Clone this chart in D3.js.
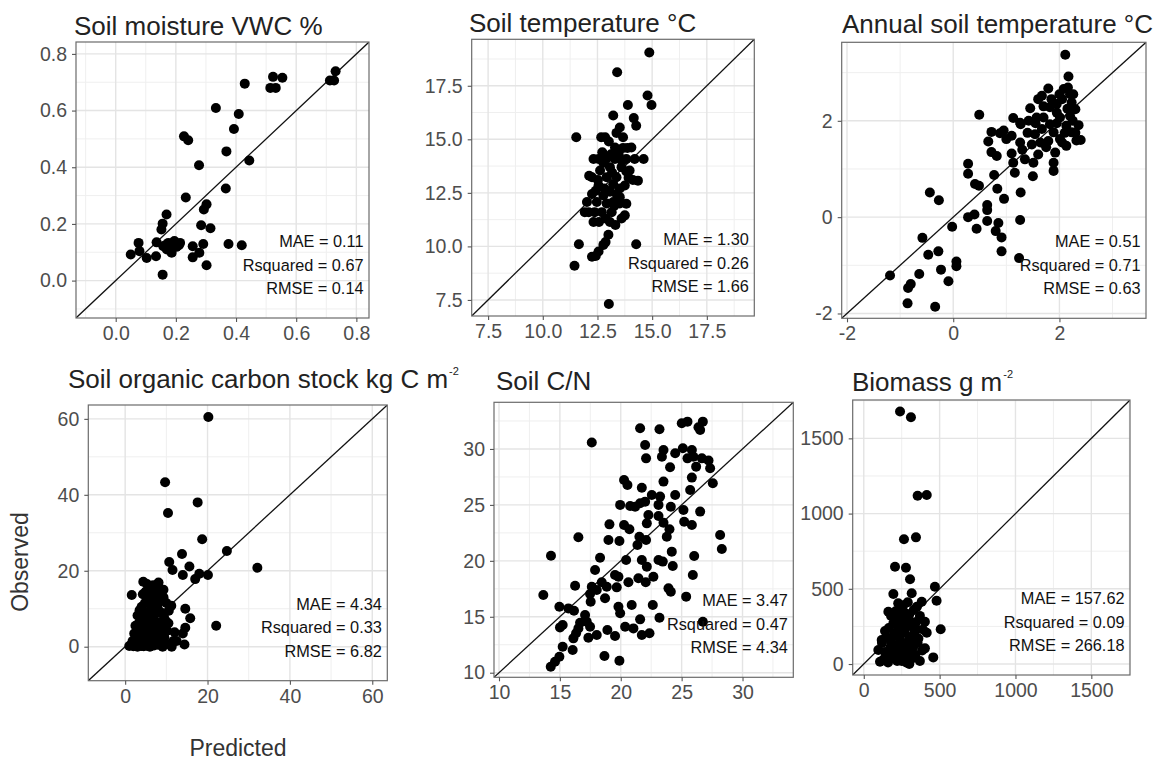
<!DOCTYPE html>
<html>
<head>
<meta charset="utf-8">
<script src="https://cdn.jsdelivr.net/npm/d3@7/dist/d3.min.js"></script>
<style>
  html, body { margin: 0; padding: 0; background: #ffffff; }
  svg { display: block; font-family: "Liberation Sans", Arial, sans-serif; }
</style>
</head>
<body>
<svg id="chart" width="1162" height="760"></svg>
<script>
// ---- Soil moisture (VWC %) ----
const moistureTitle = "Soil moisture VWC %";
const moisturePred = [0.731,0.726,0.712,0.523,0.554,0.514,0.532,0.429,0.333,0.409,0.393,0.227,0.241,0.368,0.444,0.277,0.366,0.233,0.302,0.293,0.169,0.156,0.152,0.284,0.315,0.076,0.136,0.050,0.079,0.103,0.134,0.158,0.175,0.191,0.214,0.180,0.202,0.186,0.156,0.256,0.256,0.278,0.291,0.302,0.375,0.419,0.165,0.195,0.210,0.170];
const moistureObs  = [0.739,0.706,0.706,0.719,0.716,0.680,0.680,0.695,0.609,0.588,0.535,0.509,0.495,0.456,0.424,0.407,0.325,0.293,0.269,0.251,0.233,0.201,0.180,0.195,0.185,0.133,0.135,0.092,0.104,0.080,0.086,0.121,0.133,0.127,0.133,0.112,0.119,0.098,0.021,0.121,0.082,0.098,0.129,0.054,0.129,0.125,0.125,0.140,0.125,0.110];
const moistureDomain = [-0.132, 0.842];
const moistureTicks = [0, 0.2, 0.4, 0.6, 0.8];
const moistureTickLabels = ["0.0", "0.2", "0.4", "0.6", "0.8"];
const moistureStats = ["MAE = 0.11", "Rsquared = 0.67", "RMSE = 0.14"];

// ---- Soil temperature (°C) ----
const tempTitle = "Soil temperature °C";
const tempPred = [14.87,13.40,14.79,14.97,13.89,13.22,14.16,14.27,11.53,13.52,13.37,12.85,12.67,13.67,13.30,14.05,13.67,13.87,14.61,12.55,12.32,12.92,13.30,13.82,14.20,12.62,13.07,13.60,13.97,12.25,12.12,12.92,13.37,14.35,14.12,12.55,13.75,13.22,12.25,12.77,13.37,13.07,12.02,12.47,13.22,13.82,13.52,12.10,12.70,13.15,13.75,12.32,12.57,13.07,13.60,13.00,12.77,12.87,11.65,14.27,12.55,12.25,12.42,11.45,13.02,13.02,13.47,12.77,13.17,12.82,13.52,12.42,13.27,11.92,12.87,13.32,12.37,12.72,13.62,13.12,13.92,13.82,12.52,13.52,12.92];
const tempObs  = [19.05,18.13,17.05,16.60,16.60,16.11,15.99,15.63,15.10,15.55,15.30,15.10,15.10,15.10,14.62,14.62,14.60,14.60,14.08,14.08,14.08,14.11,14.08,14.08,14.08,13.54,13.70,13.70,13.54,13.23,13.30,13.23,13.23,13.07,13.10,12.84,12.84,12.90,12.45,12.38,12.45,12.55,12.07,12.07,12.07,11.99,12.30,11.60,11.60,11.60,11.45,11.14,11.14,11.14,11.30,10.54,10.07,10.20,10.10,10.10,9.76,9.52,9.55,9.10,7.31,14.90,14.30,13.90,13.45,12.70,12.70,12.60,11.90,11.60,11.30,11.00,11.60,14.40,14.00,14.30,13.20,13.50,13.10,12.00,12.00];
const tempDomain = [6.75, 19.67];
const tempTicks = [7.5, 10, 12.5, 15, 17.5];
const tempTickLabels = ["7.5", "10.0", "12.5", "15.0", "17.5"];
const tempStats = ["MAE = 1.30", "Rsquared = 0.26", "RMSE = 1.66"];

// ---- Annual soil temperature (°C) ----
const annualTitle = "Annual soil temperature °C";
const annualPred = [0.49,1.13,0.28,0.28,0.77,0.41,0.485,-0.44,-0.27,0.83,0.957,1.27,0.64,0.64,0.28,0.40,0.64,0.44,-0.02,1.26,0.85,0.80,0.91,-0.58,-0.47,-0.28,0.91,1.24,0.06,0.06,-0.23,-0.09,-0.64,-1.19,-0.80,-0.85,-0.86,-0.34,
  2.11,2.17,1.79,1.67,1.60,1.45,1.26,1.42,1.57,1.70,1.82,1.95,2.08,2.16,2.26,2.23,2.30,2.36,2.01,2.13,2.23,2.32,2.13,2.01,1.89,1.82,1.67,1.54,1.48,1.64,1.79,1.92,1.89,1.89,1.51,1.50,0.72,0.88,0.66,0.72,0.82,1.10,1.26,1.10,1.13,1.16,1.27,
  2.05,2.20,2.10,1.95,2.25,1.85,2.00,2.15,1.75,1.60,1.40,1.30,2.05,2.30,1.95,1.55,1.70,2.20,1.35,1.00,0.95,2.40];
const annualObs  = [2.125,2.06,1.11,0.90,0.875,0.69,0.65,0.51,0.35,0.59,0.38,0.51,0.25,0.146,0.00,0.055,-0.08,-0.24,-0.20,-0.06,-0.12,-0.29,-0.42,-0.43,-0.78,-0.71,-0.71,-0.85,-0.92,-1.02,-1.09,-1.33,-1.18,-1.21,-1.39,-1.47,-1.79,-1.86,
  3.37,2.92,2.67,2.52,2.45,2.26,1.96,2.00,2.07,2.07,2.28,2.17,2.66,2.69,2.55,2.38,2.24,1.91,2.07,1.90,1.76,1.59,1.48,1.62,1.76,1.93,1.83,1.72,1.51,1.55,1.58,1.34,1.13,0.96,1.13,0.85,1.77,1.74,1.57,1.35,1.27,1.69,1.55,1.32,1.13,0.92,1.93,
  2.45,2.10,1.75,1.95,2.00,2.45,2.55,2.25,1.45,1.30,1.75,1.40,1.55,1.75,2.35,1.95,2.30,2.55,1.20,1.62,1.80,1.60];
const annualDomain = [-2.1, 3.63];
const annualTicks = [-2, 0, 2];
const annualTickLabels = ["-2", "0", "2"];
const annualStats = ["MAE = 0.51", "Rsquared = 0.71", "RMSE = 0.63"];

// ---- Soil organic carbon stock (kg C m-2) ----
const socTitle = "Soil organic carbon stock kg C m";
const socPred = [20.2,9.7,10.4,17.6,18.7,24.7,32.1,13.8,15.6,10.7,11.5,14.0,17.0,18.0,20.1,22.1,14.6,15.8,14.6,14.0,14.4,11.7,11.3,9.1,1.6,
  1.0,1.5,2.0,2.5,3.0,3.5,4.0,4.5,5.0,5.5,6.0,6.5,7.0,7.5,8.0,1.8,2.7,3.2,4.2,5.1,6.2,7.3,8.3,9.5,2.2,3.0,3.8,4.6,5.4,6.1,7.0,7.8,8.8,10.2,2.5,3.3,4.0,4.8,5.6,6.4,7.2,8.1,9.0,10.5,3.0,3.8,4.5,5.2,6.0,6.8,7.6,8.5,9.4,10.6,11.2,4.0,4.8,5.5,6.3,7.0,7.8,8.6,9.3,10.0,4.3,5.0,5.8,6.6,7.4,8.2,5.3,6.8,8.1,4.4,6.1,9.3,3.6,4.9,6.7,2.9,5.8,3.5,9.8,8.9,10.0,12.5,12.0];
const socObs  = [60.5,43.3,35.2,38.0,28.3,25.2,20.8,24.4,21.1,22.3,20.2,18.9,17.8,19.2,18.9,5.5,10.0,7.5,5.0,3.5,0.6,1.5,0.0,0.0,13.6,
  0.2,0.5,0.1,0.3,0.0,0.4,0.2,0.1,0.5,0.2,0.0,0.4,0.3,0.8,0.5,1.5,2.0,1.2,1.8,1.4,2.1,1.6,2.2,2.5,3.5,4.2,3.0,3.8,3.2,4.5,3.6,4.0,3.5,4.2,5.5,6.2,5.1,6.5,5.6,6.0,5.3,6.4,5.8,6.2,8.2,7.5,9.0,8.0,9.5,7.8,8.8,9.2,8.0,9.5,10.8,10.5,11.5,12.5,11.0,12.8,10.6,12.0,13.0,11.5,13.8,14.5,13.3,14.8,13.6,14.6,16.5,16.2,16.9,17.1,15.8,15.0,2.6,2.5,1.0,0.9,7.1,9.6,6.8,1.2,0.8,1.5,3.8];
const socDomain = [-8.95, 63.65];
const socTicks = [0, 20, 40, 60];
const socTickLabels = ["0", "20", "40", "60"];
const socStats = ["MAE = 4.34", "Rsquared = 0.33", "RMSE = 6.82"];

// ---- Soil C/N ----
const cnTitle = "Soil C/N";
const cnPred = [13.64,14.27,16.52,17.62,21.59,23.18,25.01,25.48,26.38,26.74,26.52,22.00,22.08,23.51,23.38,24.47,25.10,25.84,25.48,25.97,24.05,26.19,26.66,27.21,27.34,27.56,25.84,25.70,23.51,20.27,20.55,21.73,24.47,26.52,28.16,28.30,19.95,20.77,21.18,21.59,22.00,22.55,23.23,23.10,24.11,25.15,25.21,25.84,22.27,22.14,23.10,23.51,24.00,23.78,20.27,20.71,19.07,18.99,19.89,21.53,22.08,21.37,24.19,26.03,24.27,25.92,23.10,23.45,21.73,22.14,20.44,18.30,17.89,19.53,19.81,20.63,21.45,22.05,22.68,18.44,18.85,19.67,17.62,17.48,18.03,18.71,17.53,16.25,14.96,15.70,16.16,17.07,17.21,16.66,17.48,16.52,15.23,15.01,16.11,16.33,17.34,18.03,18.90,19.53,15.23,16.05,14.96,14.60,14.25,18.66,19.89,19.81,19.95,20.90,20.36,21.04,21.59,21.73,22.36,22.63,23.18,23.92,24.11,25.37,26.74];
const cnObs  = [16.94,20.46,22.10,30.57,31.85,31.76,32.30,32.44,31.94,32.44,31.70,30.36,29.16,29.91,29.31,29.61,30.06,29.91,29.16,29.31,28.36,28.42,29.16,28.96,28.27,26.93,27.44,26.33,27.08,27.23,26.78,26.54,25.89,24.40,22.31,21.06,25.00,24.90,24.84,25.14,25.29,25.89,25.74,25.00,24.84,24.55,23.50,23.20,24.10,23.35,24.01,23.41,22.82,22.16,23.20,22.82,23.26,21.86,21.77,22.16,21.86,21.42,20.82,20.43,19.54,18.73,20.07,19.93,20.07,19.48,20.07,20.28,19.18,18.73,18.58,18.08,18.44,18.08,18.58,18.08,17.69,17.63,17.69,17.03,17.39,16.65,16.35,17.78,15.90,15.75,15.54,15.16,14.56,14.47,14.11,13.96,14.26,14.05,13.07,13.52,13.13,13.37,13.82,13.28,12.32,12.03,11.43,10.98,10.54,11.49,11.07,15.90,15.31,16.05,14.11,13.96,14.77,13.37,13.52,16.05,14.92,17.54,17.24,16.80,14.56];
const cnDomain = [9.59, 34.17];
const cnTicks = [10, 15, 20, 25, 30];
const cnTickLabels = ["10", "15", "20", "25", "30"];
const cnStats = ["MAE = 3.47", "Rsquared = 0.47", "RMSE = 4.34"];

// ---- Biomass (g m-2) ----
const bioTitle = "Biomass g m";
const bioPred = [239,311,355,415,265,344,206,278,305,469,480,507,458,195,316,382,162,227,403,415,118,96,107,403,
  130,160,190,220,250,280,310,340,370,140,175,205,235,265,295,325,355,385,120,150,180,210,240,270,300,330,360,390,165,195,225,255,285,315,345,180,210,240,270,300,330,260,290,350,200,230,290,320,160,350,240,280,210,250,300,140,370,200,270,330,230,300];
const bioObs  = [1678,1640,1119,1124,829,842,647,640,563,514,421,231,44,465,470,414,348,404,281,208,160,93,15,104,
  30,10,40,20,50,10,30,60,20,80,110,70,95,120,85,110,140,90,140,180,150,190,160,210,175,200,170,230,240,270,230,260,290,250,280,320,350,310,340,330,360,390,410,380,110,130,140,60,60,230,210,250,300,20,0,220,320,200,70,160,360,290];
const bioDomain = [-73, 1755];
const bioTicks = [0, 500, 1000, 1500];
const bioTickLabels = ["0", "500", "1000", "1500"];
const bioStats = ["MAE = 157.62", "Rsquared = 0.09", "RMSE = 266.18"];

const xAxisTitle = "Predicted";
const yAxisTitle = "Observed";

// Panel geometry: plot box [left, top, right, bottom] and title anchor
const panels = [
  { title: moistureTitle, sup: null, pred: moisturePred, obs: moistureObs, domain: moistureDomain,
    ticks: moistureTicks, labels: moistureTickLabels, stats: moistureStats,
    box: [76, 42, 369, 318], titleAt: [74, 34.5] },
  { title: tempTitle, sup: null, pred: tempPred, obs: tempObs, domain: tempDomain,
    ticks: tempTicks, labels: tempTickLabels, stats: tempStats,
    box: [471.7, 39.3, 754.3, 316], titleAt: [469, 32] },
  { title: annualTitle, sup: null, pred: annualPred, obs: annualObs, domain: annualDomain,
    ticks: annualTicks, labels: annualTickLabels, stats: annualStats,
    box: [841.7, 42.3, 1146, 318.3], titleAt: [842, 33] },
  { title: socTitle, sup: "-2", pred: socPred, obs: socObs, domain: socDomain,
    ticks: socTicks, labels: socTickLabels, stats: socStats,
    box: [88.3, 405, 387.3, 680.7], titleAt: [68, 388] },
  { title: cnTitle, sup: null, pred: cnPred, obs: cnObs, domain: cnDomain,
    ticks: cnTicks, labels: cnTickLabels, stats: cnStats,
    box: [494, 402.3, 793.3, 677.3], titleAt: [496, 390] },
  { title: bioTitle, sup: "-2", pred: bioPred, obs: bioObs, domain: bioDomain,
    ticks: bioTicks, labels: bioTickLabels, stats: bioStats,
    box: [852.7, 400, 1130, 675], titleAt: [852, 391] }
];

const svg = d3.select("#chart");
svg.append("rect").attr("width", 1162).attr("height", 760).attr("fill", "#ffffff");

// minor breaks sit halfway between the major ones, extended to the panel edges
function minorBreaks(ticks, domain) {
  const step = ticks[1] - ticks[0];
  const out = [];
  for (let v = ticks[0] - step / 2; v <= domain[1]; v += step) {
    if (v >= domain[0]) out.push(v);
  }
  return out;
}

panels.forEach((p, i) => {
  const [L, T, R, B] = p.box;
  const x = d3.scaleLinear().domain(p.domain).range([L, R]);
  const y = d3.scaleLinear().domain(p.domain).range([B, T]);
  const g = svg.append("g").attr("class", "panel-" + i);
  const clipId = "clip-" + i;
  g.append("clipPath").attr("id", clipId)
    .append("rect").attr("x", L).attr("y", T).attr("width", R - L).attr("height", B - T);

  const grid = g.append("g");
  const minor = minorBreaks(p.ticks, p.domain);
  grid.selectAll("line.vminor").data(minor).join("line")
    .attr("x1", d => x(d)).attr("x2", d => x(d)).attr("y1", T).attr("y2", B)
    .attr("stroke", "#efefef").attr("stroke-width", 1);
  grid.selectAll("line.hminor").data(minor).join("line")
    .attr("y1", d => y(d)).attr("y2", d => y(d)).attr("x1", L).attr("x2", R)
    .attr("stroke", "#efefef").attr("stroke-width", 1);
  grid.selectAll("line.vmajor").data(p.ticks).join("line")
    .attr("x1", d => x(d)).attr("x2", d => x(d)).attr("y1", T).attr("y2", B)
    .attr("stroke", "#e4e4e4").attr("stroke-width", 1.4);
  grid.selectAll("line.hmajor").data(p.ticks).join("line")
    .attr("y1", d => y(d)).attr("y2", d => y(d)).attr("x1", L).attr("x2", R)
    .attr("stroke", "#e4e4e4").attr("stroke-width", 1.4);

  // 1:1 reference line
  g.append("line").attr("clip-path", `url(#${clipId})`)
    .attr("x1", x(p.domain[0])).attr("y1", y(p.domain[0]))
    .attr("x2", x(p.domain[1])).attr("y2", y(p.domain[1]))
    .attr("stroke", "#111").attr("stroke-width", 1.3);

  // observations vs predictions
  const pts = p.pred.map((v, k) => [v, p.obs[k]]);
  g.append("g").attr("clip-path", `url(#${clipId})`)
    .selectAll("circle").data(pts).join("circle")
    .attr("cx", d => x(d[0])).attr("cy", d => y(d[1])).attr("r", 5)
    .attr("fill", "#000");

  // panel border
  g.append("rect").attr("x", L).attr("y", T).attr("width", R - L).attr("height", B - T)
    .attr("fill", "none").attr("stroke", "#6b6b6b").attr("stroke-width", 1.2);

  // axes
  const xAxis = d3.axisBottom(x).tickValues(p.ticks).tickFormat((d, k) => p.labels[k])
    .tickSize(4).tickPadding(4);
  const yAxis = d3.axisLeft(y).tickValues(p.ticks).tickFormat((d, k) => p.labels[k])
    .tickSize(4).tickPadding(5);
  const gx = g.append("g").attr("transform", `translate(0,${B})`).call(xAxis);
  const gy = g.append("g").attr("transform", `translate(${L},0)`).call(yAxis);
  [gx, gy].forEach(a => {
    a.select(".domain").remove();
    a.selectAll(".tick line").attr("stroke", "#555").attr("stroke-width", 1.1);
    a.selectAll(".tick text").attr("fill", "#4d4d4d").attr("font-size", 19.5)
      .attr("font-family", "'Liberation Sans', Arial, sans-serif");
  });

  // title
  const t = g.append("text").attr("x", p.titleAt[0]).attr("y", p.titleAt[1])
    .attr("font-size", 26).attr("fill", "#222").text(p.title);
  if (p.sup) {
    t.append("tspan").attr("font-size", 11).attr("dy", -13).attr("dx", 1).text(p.sup);
  }

  // fit statistics
  g.append("g").selectAll("text").data(p.stats).join("text")
    .attr("x", R - 5.5).attr("y", (d, k) => B - 71 + k * 23.5)
    .attr("text-anchor", "end").attr("font-size", 16.3).attr("fill", "#111")
    .text(d => d);
});

// shared axis titles
svg.append("text").attr("x", 238).attr("y", 756).attr("text-anchor", "middle")
  .attr("font-size", 23).attr("fill", "#333").text(xAxisTitle);
svg.append("text").attr("transform", "translate(28,562) rotate(-90)")
  .attr("text-anchor", "middle").attr("font-size", 23).attr("fill", "#333").text(yAxisTitle);
</script>
</body>
</html>
